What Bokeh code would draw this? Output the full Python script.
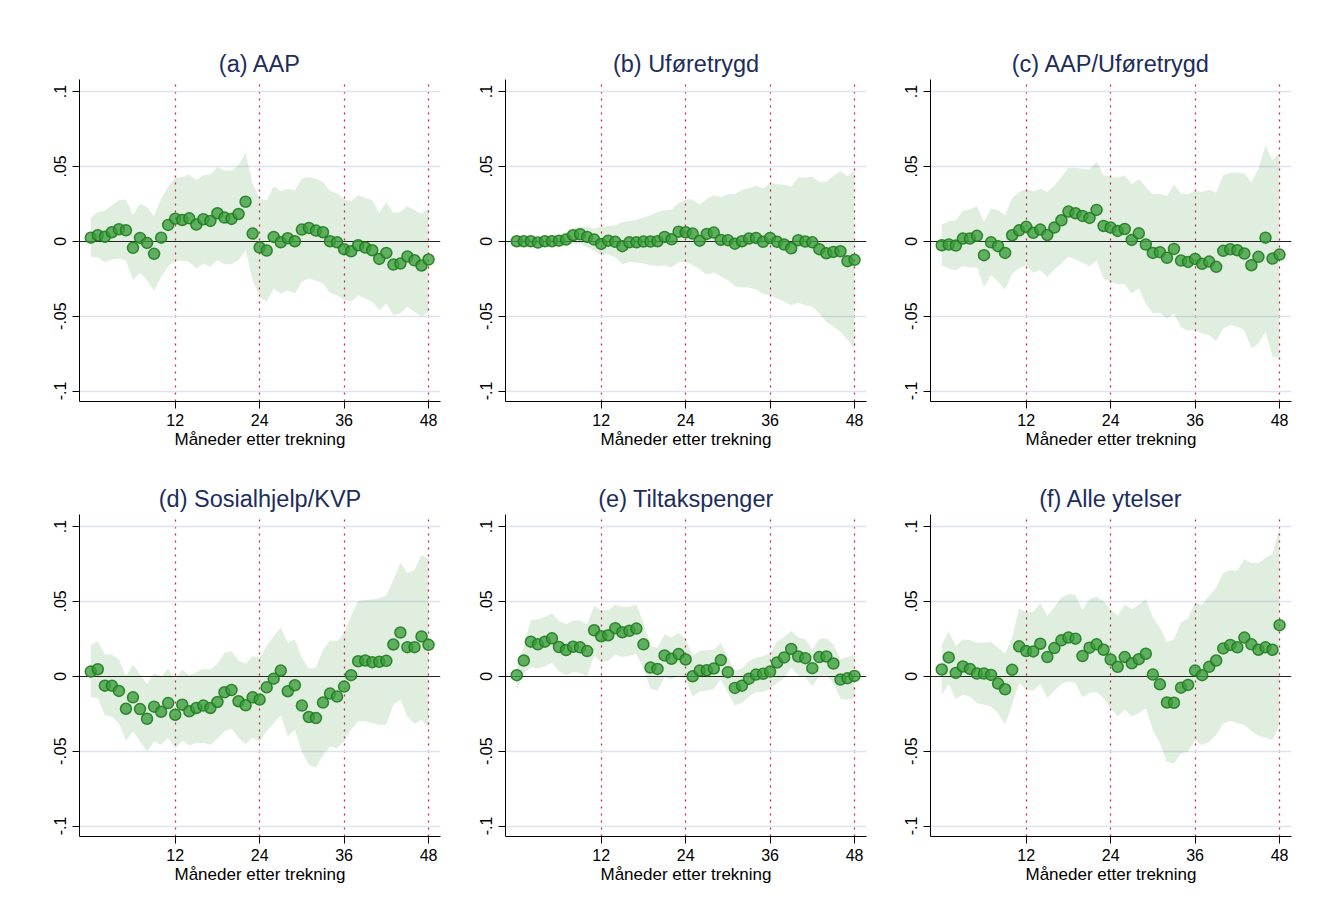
from bokeh.plotting import figure
from bokeh.layouts import gridplot
from bokeh.models import Range1d, FixedTicker, CustomJSTickFormatter, ColumnDataSource
from bokeh.embed import file_html
from bokeh.resources import INLINE

months = list(range(49))
x_ticks = [12, 24, 36, 48]
y_ticks = [-0.1, -0.05, 0, 0.05, 0.1]
x_label = "Måneder etter trekning"
titles = ["(a) AAP", "(b) Uføretrygd", "(c) AAP/Uføretrygd",
          "(d) Sosialhjelp/KVP", "(e) Tiltakspenger", "(f) Alle ytelser"]

est_a = [0.0024,0.004,0.003,0.006,0.008,0.0073,-0.0044,0.0022,-0.0011,-0.0084,0.0024,0.0109,0.0151,0.0142,0.0153,0.0111,0.0147,0.0136,0.0187,0.0158,0.0149,0.0182,0.0264,0.0051,-0.0042,-0.0062,0.0029,-0.0007,0.002,0.0,0.0078,0.0089,0.0071,0.006,0.0,-0.0007,-0.0053,-0.0067,-0.0027,-0.0042,-0.006,-0.0118,-0.0078,-0.0156,-0.0149,-0.0102,-0.0127,-0.0162,-0.0122]
hi_a = [0.0156,0.0196,0.0202,0.024,0.0273,0.0278,0.0173,0.0251,0.0229,0.0167,0.0284,0.0362,0.0422,0.0429,0.0444,0.0407,0.044,0.0444,0.0496,0.0473,0.0473,0.0507,0.0589,0.0384,0.0284,0.0273,0.0367,0.0336,0.0351,0.034,0.0418,0.0429,0.0418,0.0396,0.0336,0.0322,0.028,0.0267,0.0307,0.0291,0.0273,0.0191,0.0262,0.0189,0.0196,0.0233,0.0207,0.0184,0.0218]
lo_a = [-0.0104,-0.0109,-0.0138,-0.0122,-0.0116,-0.0127,-0.026,-0.0211,-0.026,-0.0331,-0.0238,-0.0167,-0.0131,-0.0131,-0.0138,-0.0182,-0.0149,-0.0171,-0.0127,-0.0153,-0.0153,-0.0127,-0.006,-0.026,-0.0371,-0.0404,-0.0316,-0.0349,-0.0327,-0.0349,-0.0271,-0.0249,-0.0264,-0.0282,-0.0344,-0.036,-0.0393,-0.0404,-0.036,-0.0382,-0.0404,-0.046,-0.0416,-0.0493,-0.0482,-0.0438,-0.0471,-0.0504,-0.0471]

est_b = [0.0,0.0,0.0,-0.0009,0.0,0.0,0.0004,0.0011,0.004,0.0047,0.0029,0.0011,-0.0018,0.0004,-0.0004,-0.0033,-0.0007,-0.0007,-0.0002,-0.0002,0.0,0.0029,0.0013,0.0064,0.006,0.0051,0.0004,0.0049,0.0058,0.0009,0.0007,-0.0016,0.0,0.0018,0.0022,-0.0004,0.0022,-0.0004,-0.0022,-0.0047,0.0007,-0.0002,-0.0007,-0.0053,-0.008,-0.0071,-0.0067,-0.0133,-0.0124]
hi_b = [0.0011,0.0013,0.0016,0.0018,0.0024,0.0029,0.004,0.0062,0.0084,0.0096,0.0096,0.0084,0.0096,0.01,0.0107,0.0129,0.0136,0.0144,0.0158,0.0173,0.0196,0.0207,0.0211,0.0256,0.0278,0.0278,0.0244,0.0284,0.0307,0.0296,0.0313,0.0316,0.0342,0.0356,0.0371,0.0353,0.0387,0.038,0.0378,0.0364,0.0427,0.0424,0.0431,0.0398,0.0398,0.0438,0.0467,0.0433,0.0476]
lo_b = [-0.0011,-0.0013,-0.0016,-0.002,-0.0024,-0.0027,-0.0031,-0.0027,-0.0016,-0.0016,-0.0038,-0.0064,-0.0093,-0.0087,-0.0109,-0.0153,-0.0138,-0.0142,-0.0149,-0.016,-0.0167,-0.016,-0.0176,-0.0138,-0.0138,-0.016,-0.0189,-0.0222,-0.0211,-0.0233,-0.026,-0.03,-0.0309,-0.0309,-0.0322,-0.0353,-0.036,-0.0382,-0.0404,-0.0427,-0.0411,-0.0427,-0.0438,-0.0482,-0.0538,-0.0571,-0.0604,-0.0656,-0.0716]

est_c = [-0.0027,-0.0022,-0.0029,0.0018,0.0018,0.0036,-0.0093,-0.0007,-0.0033,-0.0078,0.004,0.0073,0.0096,0.0056,0.0078,0.0042,0.0091,0.014,0.0198,0.0187,0.0169,0.0156,0.0209,0.0102,0.0091,0.0069,0.0082,0.0009,0.0053,-0.0022,-0.0078,-0.0073,-0.0111,-0.0051,-0.0129,-0.0138,-0.0118,-0.0151,-0.0136,-0.0171,-0.0064,-0.0053,-0.006,-0.0082,-0.016,-0.0104,0.0024,-0.0116,-0.0089]
hi_c = [0.0111,0.0133,0.014,0.0202,0.0213,0.0236,0.0129,0.0218,0.0207,0.0173,0.0291,0.0329,0.0351,0.0333,0.0351,0.0329,0.0373,0.0429,0.0491,0.0491,0.0484,0.0478,0.0533,0.044,0.0433,0.0424,0.044,0.038,0.0418,0.0362,0.0313,0.0318,0.03,0.0378,0.0318,0.0313,0.0336,0.0329,0.0344,0.0324,0.044,0.0458,0.0458,0.0451,0.0396,0.0484,0.064,0.054,0.0589]
lo_c = [-0.016,-0.0182,-0.0193,-0.0167,-0.0176,-0.0176,-0.0304,-0.0227,-0.0271,-0.0322,-0.0216,-0.0182,-0.016,-0.0211,-0.0193,-0.0238,-0.0189,-0.0149,-0.0104,-0.0122,-0.0144,-0.0167,-0.0131,-0.0249,-0.0271,-0.0287,-0.0287,-0.0349,-0.0316,-0.0416,-0.0482,-0.0478,-0.0516,-0.0482,-0.0576,-0.0598,-0.0593,-0.0616,-0.0627,-0.0664,-0.0582,-0.056,-0.0571,-0.0593,-0.0716,-0.0682,-0.0604,-0.0771,-0.0776]

est_d = [0.0031,0.0047,-0.0063,-0.0063,-0.0098,-0.0217,-0.0141,-0.0219,-0.0284,-0.0203,-0.0237,-0.0179,-0.0257,-0.019,-0.0234,-0.0212,-0.0196,-0.0212,-0.0172,-0.0107,-0.0092,-0.0167,-0.0194,-0.0141,-0.0156,-0.0074,-0.0016,0.0038,-0.01,-0.006,-0.0196,-0.0272,-0.0279,-0.0176,-0.0116,-0.0136,-0.0069,0.0007,0.01,0.0105,0.0094,0.0096,0.0103,0.0212,0.0292,0.0194,0.0194,0.0266,0.021]
hi_d = [0.0208,0.0234,0.0145,0.0145,0.0112,0.0,0.0078,0.0011,-0.0051,0.0022,0.0,0.0049,-0.0016,0.0045,0.0007,0.0027,0.0051,0.0045,0.0083,0.0156,0.0167,0.0105,0.0083,0.0134,0.0123,0.0201,0.0268,0.0324,0.0223,0.0246,0.0123,0.0051,0.0056,0.0179,0.0239,0.0234,0.029,0.0402,0.0502,0.0509,0.0513,0.052,0.054,0.0642,0.0756,0.0687,0.0709,0.0809,0.0782]
lo_d = [-0.0141,-0.0145,-0.0261,-0.0268,-0.0313,-0.0431,-0.0368,-0.0435,-0.0502,-0.0435,-0.0458,-0.0413,-0.048,-0.0431,-0.0462,-0.0446,-0.0446,-0.0458,-0.0417,-0.0368,-0.035,-0.0413,-0.0453,-0.0413,-0.0435,-0.0368,-0.0313,-0.0261,-0.0402,-0.0357,-0.0502,-0.0592,-0.0609,-0.0525,-0.0469,-0.048,-0.0435,-0.0357,-0.0301,-0.0301,-0.0313,-0.0324,-0.0324,-0.019,-0.0156,-0.0268,-0.0319,-0.029,-0.0346]

est_e = [0.0007,0.0105,0.0231,0.0213,0.0231,0.0253,0.0195,0.0175,0.0197,0.0193,0.0168,0.0307,0.0267,0.0274,0.0321,0.0294,0.0303,0.0318,0.0213,0.0058,0.0049,0.0139,0.0117,0.0148,0.0112,0.0,0.0038,0.004,0.0052,0.0108,0.0027,-0.0078,-0.0063,-0.0016,0.0011,0.0016,0.0031,0.0092,0.0126,0.0182,0.0132,0.0121,0.0054,0.0128,0.0132,0.0085,-0.0022,-0.0013,0.0002]
hi_e = [0.0052,0.0202,0.0374,0.0381,0.0397,0.0419,0.037,0.0348,0.037,0.0374,0.0348,0.0471,0.0437,0.0442,0.0478,0.046,0.0464,0.0478,0.0359,0.0202,0.0191,0.028,0.0258,0.0291,0.0247,0.0135,0.0168,0.0173,0.0179,0.0224,0.0123,0.0038,0.0052,0.0101,0.0123,0.0135,0.015,0.0235,0.0262,0.0303,0.0258,0.0247,0.0179,0.0251,0.0253,0.0213,0.0112,0.0128,0.0146]
lo_e = [-0.009,0.0022,0.0061,0.0052,0.0067,0.009,0.0034,0.0007,0.0029,0.0022,0.0,0.0135,0.0096,0.0101,0.0146,0.0128,0.0135,0.015,0.0052,-0.0083,-0.0096,-0.0007,-0.0022,0.0007,-0.0022,-0.0135,-0.0101,-0.0096,-0.0083,-0.0022,-0.0112,-0.0195,-0.0179,-0.0135,-0.0105,-0.0105,-0.0083,-0.0045,-0.0011,0.0056,0.0007,-0.0007,-0.0067,0.0,0.0007,-0.0045,-0.015,-0.0157,-0.0146]

est_f = [0.0045,0.0126,0.0022,0.0065,0.0049,0.0018,0.0018,0.0009,-0.0049,-0.0087,0.0043,0.02,0.0168,0.0166,0.0217,0.0128,0.0188,0.024,0.0258,0.0251,0.0135,0.0191,0.0213,0.0177,0.0112,0.0063,0.0128,0.0087,0.0114,0.015,0.0011,-0.0054,-0.0175,-0.0177,-0.0076,-0.0058,0.0038,0.0007,0.0063,0.0105,0.0186,0.0209,0.0193,0.0258,0.0213,0.0177,0.0193,0.0177,0.0341]
hi_f = [0.0213,0.0298,0.0202,0.0247,0.024,0.0224,0.0224,0.0229,0.0191,0.015,0.0258,0.0453,0.0426,0.0433,0.0487,0.0404,0.046,0.0527,0.0549,0.0543,0.0442,0.0516,0.0531,0.05,0.0448,0.0404,0.0478,0.0448,0.0478,0.0516,0.0392,0.0325,0.0229,0.0247,0.0359,0.0388,0.0493,0.0478,0.0538,0.0594,0.0688,0.0709,0.0704,0.0782,0.0756,0.0756,0.0789,0.0816,0.0993]
lo_f = [-0.0123,-0.0052,-0.0152,-0.0123,-0.0135,-0.0179,-0.0191,-0.0202,-0.0247,-0.0321,-0.0191,-0.0045,-0.009,-0.0096,-0.0052,-0.0146,-0.0096,-0.0052,-0.0034,-0.0045,-0.0141,-0.0112,-0.0105,-0.0146,-0.0213,-0.0269,-0.0224,-0.0269,-0.0247,-0.0213,-0.0359,-0.0448,-0.0572,-0.0583,-0.0516,-0.0504,-0.0426,-0.046,-0.0437,-0.0392,-0.0314,-0.0298,-0.0314,-0.0325,-0.0365,-0.0397,-0.041,-0.0426,-0.0325]

FONT = "Liberation Sans"
FRAME_W = 361
FRAME_H = 322

yfmt = CustomJSTickFormatter(code="""
    if (Math.abs(tick) < 1e-9) { return "0"; }
    let s = tick.toFixed(2).replace(/0+$/, "");
    return s.replace("0.", ".");
""")


def make_panel(title, est, lo, hi, left, right, top, bottom):
    p = figure(width=left + FRAME_W + right, height=top + FRAME_H + bottom,
               output_backend="svg", toolbar_location=None,
               x_range=Range1d(-1.6, 49.7), y_range=Range1d(-0.107, 0.108),
               min_border_left=left, min_border_right=right,
               min_border_top=top, min_border_bottom=bottom,
               title=title)
    p.outline_line_color = None
    p.background_fill_color = "white"
    p.border_fill_color = "white"

    p.title.align = "center"
    p.title.text_font = FONT
    p.title.text_font_size = "23.5px"
    p.title.text_font_style = "normal"
    p.title.text_color = "#1c2d5c"
    p.title.standoff = 5

    # axes
    p.xaxis.ticker = FixedTicker(ticks=x_ticks)
    p.yaxis.ticker = FixedTicker(ticks=y_ticks)
    p.yaxis.formatter = yfmt
    p.xaxis.axis_label = x_label
    for ax in (p.xaxis, p.yaxis):
        ax.axis_line_color = "black"
        ax.axis_line_width = 1
        ax.major_tick_line_color = "black"
        ax.major_tick_in = 0
        ax.major_tick_out = 7
        ax.minor_tick_line_color = None
        ax.major_label_text_font = FONT
        ax.major_label_text_font_size = "16px"
        ax.major_label_text_color = "black"
    p.xaxis.major_label_standoff = 5
    p.xaxis.axis_label_standoff = 1
    p.xaxis.axis_label_text_font = FONT
    p.xaxis.axis_label_text_font_size = "17px"
    p.xaxis.axis_label_text_font_style = "normal"
    p.xaxis.axis_label_text_color = "black"
    p.yaxis.major_label_orientation = "vertical"
    p.yaxis.major_label_standoff = 6

    # grids: horizontal light lines, vertical red dotted lines at the years
    p.ygrid.ticker = FixedTicker(ticks=[-0.1, -0.05, 0.05, 0.1])
    p.ygrid.grid_line_color = "#dfe3f0"
    p.ygrid.grid_line_width = 1.5
    p.xgrid.ticker = FixedTicker(ticks=x_ticks)
    p.xgrid.grid_line_color = "#d81e4a"
    p.xgrid.grid_line_width = 1.3
    p.xgrid.grid_line_dash = "2 5"

    src = ColumnDataSource(dict(m=months, est=est, lo=lo, hi=hi))
    p.varea(x="m", y1="lo", y2="hi", source=src,
            fill_color="#2e8b2e", fill_alpha=0.15)
    p.hspan(y=[0], line_color="#222222", line_width=1.2)
    p.scatter(x="m", y="est", source=src, size=11,
              fill_color="#3c9e3c", fill_alpha=0.78,
              line_color="#1f7d1f", line_width=1.5, line_alpha=0.9)
    return p


data = [(est_a, lo_a, hi_a), (est_b, lo_b, hi_b), (est_c, lo_c, hi_c),
        (est_d, lo_d, hi_d), (est_e, lo_e, hi_e), (est_f, lo_f, hi_f)]
lefts = [79, 40, 39]
rights = [25, 25, 10]
tops = [79, 63]
bottoms = [50, 50]

panels = []
for i, (t, (e, l, h)) in enumerate(zip(titles, data)):
    r, c = divmod(i, 3)
    panels.append(make_panel(t, e, l, h, lefts[c], rights[c], tops[r], bottoms[r]))

grid = gridplot([panels[0:3], panels[3:6]], toolbar_location=None)

open("out.html", "w").write(file_html(grid, INLINE))
